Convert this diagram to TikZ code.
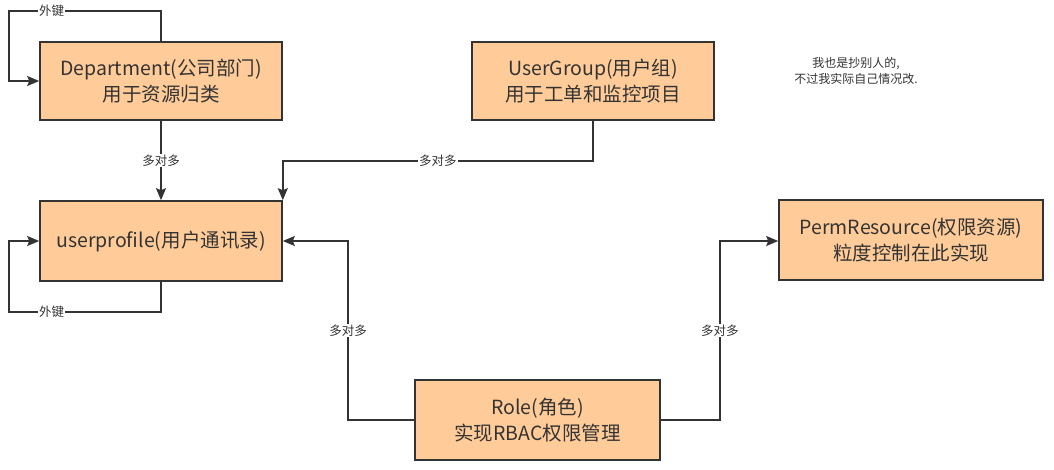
\documentclass[tikz,border=0pt]{standalone}
\usepackage{fontspec}
\setmainfont{Noto Sans CJK SC}
\usepackage{xcolor}
\usetikzlibrary{arrows.meta}
\definecolor{boxfill}{HTML}{FFCC99}
\definecolor{ink}{HTML}{333333}

\tikzset{
  entity/.style={draw=ink, line width=1.6pt, fill=boxfill, text=ink, align=center,
    minimum width=242pt, minimum height=78pt, inner sep=0pt,
    font=\fontsize{19.5}{26}\selectfont},
  conn/.style={draw=ink, line width=1.5pt},
  tip/.style={-{Stealth[length=12pt,width=10pt,inset=2pt]}},
  lbl/.style={fill=white, text=ink, inner sep=1pt, font=\fontsize{12.5}{14}\selectfont}
}

\begin{document}
\begin{tikzpicture}[x=1pt,y=-1pt]
  \useasboundingbox (0,0) rectangle (1054,470);

  % entities
  \node[entity] (dept) at (161,81) {Department(公司部门)\\用于资源归类};
  \node[entity] (ugroup) at (593,81) {UserGroup(用户组)\\用于工单和监控项目};
  \node[entity, minimum height=80pt] (uprofile) at (161,241) {userprofile(用户通讯录)};
  \node[entity, minimum width=264pt, minimum height=80pt] (perm) at (911,240) {PermResource(权限资源)\\粒度控制在此实现};
  \node[entity, minimum width=245pt, minimum height=80pt] (role) at (537.5,420) {Role(角色)\\实现RBAC权限管理};

  % note
  \node[text=ink, align=center, font=\fontsize{12}{16}\selectfont] (note) at (856,71) {我也是抄别人的,\\不过我实际自己情况改.};

  % self loops
  \draw[conn, tip] (dept.north) -- ++(0,-30) -- ++(-152,0) node[lbl, pos=0.72] {外键} |- (dept.west);
  \draw[conn, tip] (uprofile.south) -- ++(0,30) -- ++(-152,0) node[lbl, pos=0.72] {外键} |- (uprofile.west);

  % relations
  \draw[conn, tip] (dept.south) -- node[lbl] {多对多} (uprofile.north);
  \draw[conn, tip] (ugroup.south) -- ++(0,40) coordinate (ug1) -- (ug1 -| uprofile.north east) node[lbl, pos=0.5] {多对多} -- (uprofile.north east);
  \draw[conn, tip] (role.west) -| ++(-66,-179) coordinate (r1) node[lbl, pos=0.75] {多对多} -- (r1 -| uprofile.east);
  \draw[conn, tip] (role.east) -| ++(59,-179) coordinate (r2) node[lbl, pos=0.75] {多对多} -- (r2 -| perm.west);
\end{tikzpicture}
\end{document}
